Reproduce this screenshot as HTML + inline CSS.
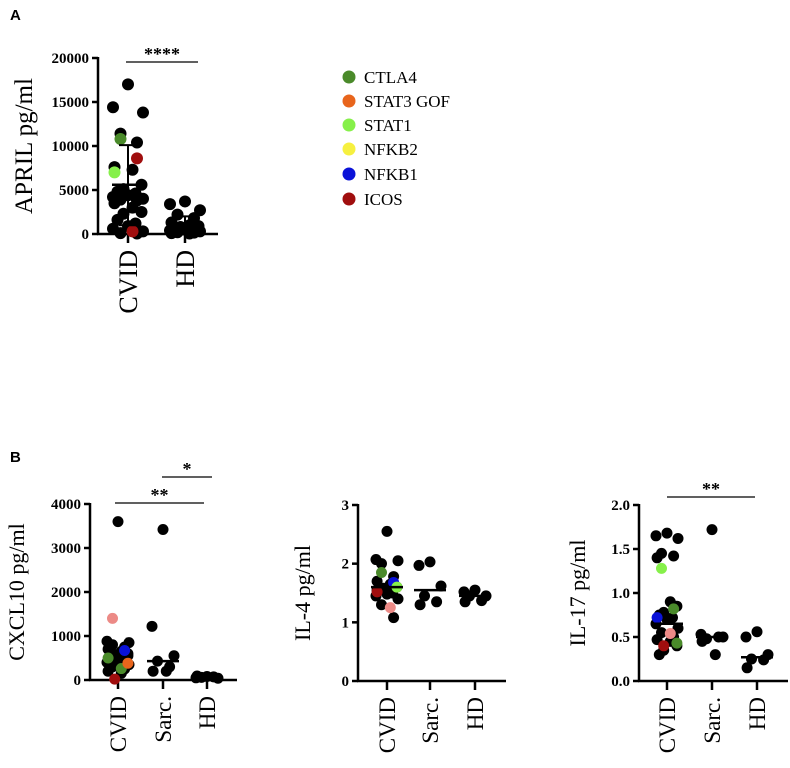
<!DOCTYPE html>
<html><head><meta charset="utf-8"><style>
html,body{margin:0;padding:0;background:#fff;}
svg text{font-family:"Liberation Serif",serif;}
</style></head><body>
<svg id="fig" width="790" height="763" xmlns="http://www.w3.org/2000/svg">
<text x="10" y="20" font-weight="bold" font-size="15" style="font-family:'Liberation Sans',sans-serif">A</text>
<text x="10" y="462" font-weight="bold" font-size="15" style="font-family:'Liberation Sans',sans-serif">B</text>
<g id="legend"></g>
</svg>
<script>
const NS="http://www.w3.org/2000/svg";
const svg=document.getElementById('fig');
function mk(tag,attrs,parent){const e=document.createElementNS(NS,tag);for(const k in attrs)e.setAttribute(k,attrs[k]);(parent||svg).appendChild(e);return e;}

const colorMap={k:'#000',ctla4:'#4a8a2a',stat3:'#e8651c',stat1:'#86f04a',nfkb2:'#f6f040',nfkb1:'#0a12d8',icos:'#a00e0e',pink:'#ec8a86'};
const legendLabels=['CTLA4','STAT3 GOF','STAT1','NFKB2','NFKB1','ICOS'];
const legendKeys=['ctla4','stat3','stat1','nfkb2','nfkb1','icos'];

// Panel A data
const aCategories=['CVID','HD'];
const aTicks=[0,5000,10000,15000,20000];
const aCvid=[17000,14400,13800,11400,10400,7600,7300,5600,5100,4800,4600,4400,4200,4000,3900,3800,3500,3000,2500,2300,1600,1200,900,600,300,100,50];
const aCvidColored=[10800,8600,7000,300];
const aCvidColoredKeys=['ctla4','icos','stat1','icos'];
const aHd=[3700,3400,2700,2200,1800,1300,1000,900,800,700,600,500,400,300,200,150,100,50,400,700,300];
const aMean=[5600,800];
const aSdTop=[10100,2000];
const aSdBot=[1000,100];

// Panel B1 CXCL10
const b1Categories=['CVID','Sarc.','HD'];
const b1Ticks=[0,1000,2000,3000,4000];
const b1Cvid=[3600,880,850,800,750,700,650,600,580,550,500,450,400,350,300,250,200,150,550,450];
const b1CvidColored=[1400,670,500,260,380,20];
const b1CvidColoredKeys=['pink','nfkb1','ctla4','ctla4','stat3','icos'];
const b1Sarc=[3420,1220,550,430,300,200,200];
const b1Hd=[80,50,40,60,70,90];
const b1Median=[null,430,60];

// Panel B2 IL-4
const b2Categories=['CVID','Sarc.','HD'];
const b2Ticks=[0,1,2,3];
const b2Cvid=[2.55,2.07,2.05,2.0,1.78,1.7,1.65,1.6,1.58,1.55,1.5,1.48,1.45,1.4,1.3,1.08,1.55,1.6];
const b2CvidColored=[1.85,1.68,1.52,1.25,1.6];
const b2CvidColoredKeys=['ctla4','nfkb1','icos','pink','stat1'];
const b2Sarc=[2.03,1.97,1.62,1.45,1.35,1.3];
const b2Hd=[1.55,1.52,1.45,1.45,1.37,1.35];
const b2Median=[1.6,1.55,1.45];

// Panel B3 IL-17
const b3Categories=['CVID','Sarc.','HD'];
const b3Ticks=[0,0.5,1.0,1.5,2.0];
const b3TickLabels=['0.0','0.5','1.0','1.5','2.0'];
const b3Cvid=[1.68,1.65,1.62,1.45,1.42,1.4,0.9,0.85,0.78,0.75,0.72,0.7,0.65,0.6,0.55,0.5,0.47,0.45,0.4,0.35,0.3];
const b3CvidColored=[1.28,0.82,0.72,0.54,0.43,0.4];
const b3CvidColoredKeys=['stat1','ctla4','nfkb1','pink','ctla4','icos'];
const b3Sarc=[1.72,0.53,0.5,0.48,0.5,0.45,0.3];
const b3Hd=[0.56,0.5,0.3,0.25,0.24,0.15];
const b3Median=[0.65,0.5,0.27];

function jit(i,spread){const s=[0,-1,1,-0.5,0.6,-0.9,0.3,0.9,-0.3,-0.7,0.5];return s[i%s.length]*spread;}

function panel(o){
  const g=mk('g',{});
  
  
  const y=v=>o.y0-(v-o.ticks[0])/(o.ticks[o.ticks.length-1]-o.ticks[0])*(o.y0-o.yTop);
  const x=i=>o.cx[i];
  const ya=mk('line',{x1:o.ax,y1:o.yTop-1,x2:o.ax,y2:o.y0+1,stroke:'#000','stroke-width':2.5},g);
  
  const xa=mk('line',{x1:o.ax-1,y1:o.y0,x2:o.xEnd,y2:o.y0,stroke:'#000','stroke-width':2.5},g);
  
  o.ticks.forEach((t,i)=>{
    mk('line',{x1:o.ax-6,y1:y(t),x2:o.ax,y2:y(t),stroke:'#000','stroke-width':2.5},g);
    const tx=mk('text',{x:o.ax-9,y:y(t)+5,'text-anchor':'end','font-size':15,'font-weight':'bold'},g);
    tx.textContent=o.tickLabels?o.tickLabels[i]:String(t);
    
  });
  o.cats.forEach((c,i)=>{
    mk('line',{x1:x(i),y1:o.y0,x2:x(i),y2:o.y0+9,stroke:'#000','stroke-width':2.5},g);
    const t=mk('text',{x:0,y:0,'text-anchor':'end','font-size':o.catSize,transform:`translate(${x(i)+o.catSize*0.35},${o.y0+16}) rotate(-90)`},g);
    t.textContent=c;
    
  });
  const yt=mk('text',{x:0,y:0,'text-anchor':'middle','font-size':o.titleSize,transform:`translate(${o.titleX},${(o.y0+o.yTop)/2}) rotate(-90)`},g);
  yt.textContent=o.title;
  
  const r=o.r;
  o.groups.forEach((vals,gi)=>{
    vals.forEach((v,i)=>{
      const c=mk('circle',{cx:x(gi)+jit(i,o.spread),cy:y(v),r:r,fill:'#000'},g);
      
      
    });
  });
  o.colored.forEach((v,i)=>{
    const c=mk('circle',{cx:x(0)+jit(i+3,o.spread),cy:y(v),r:r,fill:colorMap[o.coloredKeys[i]]},g);
    
    
  });
  if(o.mean){o.mean.forEach((m,i)=>{
    if(m==null)return;
    mk('line',{x1:x(i)-16,y1:y(m),x2:x(i)+16,y2:y(m),stroke:'#000','stroke-width':2.5},g);
    if(o.sdTop){
      mk('line',{x1:x(i),y1:y(o.sdTop[i]),x2:x(i),y2:y(o.sdBot[i]),stroke:'#000','stroke-width':2},g);
      mk('line',{x1:x(i)-9,y1:y(o.sdTop[i]),x2:x(i)+9,y2:y(o.sdTop[i]),stroke:'#000','stroke-width':2},g);
      mk('line',{x1:x(i)-9,y1:y(o.sdBot[i]),x2:x(i)+9,y2:y(o.sdBot[i]),stroke:'#000','stroke-width':2},g);
    }
  });}
  (o.sig||[]).forEach(s=>{
    const l=mk('line',{x1:s[0],y1:s[2],x2:s[1],y2:s[2],stroke:'#000','stroke-width':1.3},g);
    
    const t=mk('text',{x:(s[0]+s[1])/2,y:s[2]-2,'text-anchor':'middle','font-size':18,'font-weight':'bold'},g);
    t.textContent=s[3];
    
  });
}

panel({name:'april-panel',ax:98,y0:234,yTop:58,xEnd:218,cx:[128,185],ticks:aTicks,cats:aCategories,title:'APRIL pg/ml',titleX:32,titleSize:25,catSize:26,
  groups:[aCvid,aHd],colored:aCvidColored,coloredKeys:aCvidColoredKeys,r:6,spread:15,mean:aMean,sdTop:aSdTop,sdBot:aSdBot,
  sig:[[126,198,62,'****']]});
panel({name:'cxcl10-panel',ax:90,y0:680,yTop:504,xEnd:237,cx:[118,163,207],ticks:b1Ticks,cats:b1Categories,title:'CXCL10 pg/ml',titleX:24,titleSize:22,catSize:23,
  groups:[b1Cvid,b1Sarc,b1Hd],colored:b1CvidColored,coloredKeys:b1CvidColoredKeys,r:5.5,spread:11,mean:b1Median,
  sig:[[115,204,503,'**'],[162,212,477,'*']]});
panel({name:'il4-panel',ax:358,y0:681,yTop:505,xEnd:506,cx:[387,430,475],ticks:b2Ticks,cats:b2Categories,title:'IL-4 pg/ml',titleX:310,titleSize:22,catSize:23,
  groups:[b2Cvid,b2Sarc,b2Hd],colored:b2CvidColored,coloredKeys:b2CvidColoredKeys,r:5.5,spread:11,mean:b2Median});
panel({name:'il17-panel',ax:639,y0:681,yTop:505,xEnd:788,cx:[667,712,757],ticks:b3Ticks,tickLabels:b3TickLabels,cats:b3Categories,title:'IL-17 pg/ml',titleX:585,titleSize:22,catSize:23,
  groups:[b3Cvid,b3Sarc,b3Hd],colored:b3CvidColored,coloredKeys:b3CvidColoredKeys,r:5.5,spread:11,mean:b3Median,
  sig:[[667,755,497,'**']]});

const lg=document.getElementById('legend');
const ly=[77,101,125,149,174,199];
legendLabels.forEach((lab,i)=>{
  const c=mk('circle',{cx:349,cy:ly[i],r:6.5,fill:colorMap[legendKeys[i]]},lg);
  
  
  const t=mk('text',{x:364,y:ly[i]+6,'font-size':17},lg);
  t.textContent=lab;
  
  
});
</script>
</body></html>
